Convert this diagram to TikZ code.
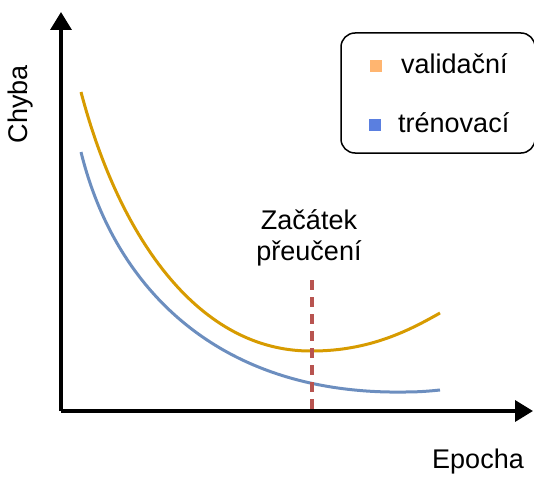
\documentclass[tikz,border=0pt]{standalone}
\usepackage{fontspec}
\setmainfont{Liberation Sans}
\usetikzlibrary{arrows.meta}
\definecolor{valc}{HTML}{D79B00}
\definecolor{trnc}{HTML}{6C8EBF}
\definecolor{redc}{HTML}{B85450}
\definecolor{legO}{HTML}{FFB570}
\definecolor{legB}{HTML}{5A7FE0}
\tikzset{
  axis/.style={line width=3.5pt,-{Triangle[length=18pt,width=21pt]}},
  curve/.style={line width=3pt},
  lbl/.style={font=\fontsize{27}{32}\selectfont, inner sep=0pt},
  legsq/.style={minimum size=12pt, inner sep=0pt}
}
\begin{document}
\begin{tikzpicture}[x=1pt,y=-1pt]
\useasboundingbox (0,0) rectangle (534,476);
% axes
\coordinate (o) at (61,411);
\coordinate (ytop) at (61,12);
\coordinate (xend) at (533,411);
\draw[axis] (o) -- (ytop);
\draw[axis] (o) -- (xend);
% curves
\coordinate (v0) at (81,92);
\coordinate (vm) at (312,351);
\coordinate (v1) at (440,313);
\draw[curve,valc] (v0) .. controls (120,240) and (200,352) .. (vm) .. controls (370,351) and (410,330) .. (v1);
\coordinate (t0) at (81,152);
\coordinate (tm) at (405,392);
\coordinate (t1) at (440,390);
\draw[curve,trnc] (t0) .. controls (115,290) and (220,395) .. (tm) .. controls (420,392) and (430,391) .. (t1);
% dashed
\coordinate (d0) at (312,280);
\coordinate (d1) at (312,412);
\draw[redc,line width=3.5pt,dash pattern=on 10pt off 7pt] (d0) -- (d1);
% labels
\node[lbl] (z1) at (309,220) {Začátek};
\node[lbl] (z2) at (309,253) {přeučení};
\node[lbl,rotate=90] (chyba) at (21,104) {Chyba};
\node[lbl] (epocha) at (478,462) {Epocha};
% legend
\node[draw,line width=1.5pt,rounded corners=14pt,minimum width=194pt,minimum height=120pt] (leg) at (438,93) {};
\node[legsq,fill=legO] (sqo) at (376,66) {};
\node[legsq,fill=legB] (sqb) at (375,125) {};
\node[lbl,anchor=west] (tv) at (401,64) {validační};
\node[lbl,anchor=west] (tt) at (398,123) {trénovací};
\end{tikzpicture}
\end{document}
